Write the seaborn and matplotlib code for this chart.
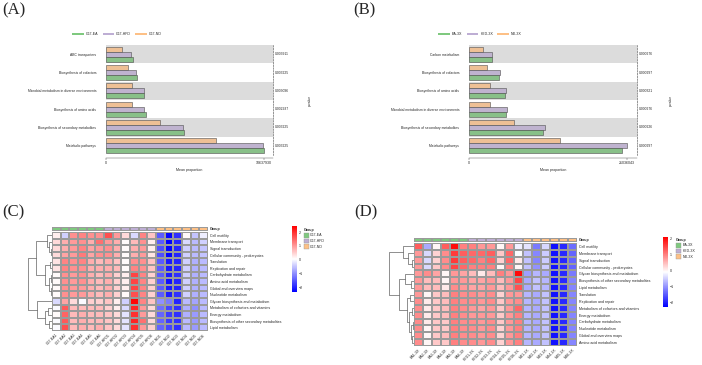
import numpy as np
import pandas as pd
import seaborn as sns
import matplotlib.pyplot as plt
from matplotlib.colors import LinearSegmentedColormap, ListedColormap
from matplotlib.patches import Patch

sns.set_style('white')
plt.rcParams['font.family'] = ['Liberation Sans', 'DejaVu Sans']

W, H = 702, 365
accent = ['#7FC97F', '#BEAED4', '#FDC086']

# ---- (A) bar data ----
a_paths = ['ABC transporters', 'Biosynthesis of cofactors',
           'Microbial metabolism in diverse environments', 'Biosynthesis of amino acids',
           'Biosynthesis of secondary metabolites', 'Metabolic pathways']
a_groups = ['C57-EA', 'C57-HFD', 'C57-ND']
a_ea = [1791650, 2060400, 2575500, 2687500, 5263000, 10637930]
a_hfd = [1679670, 2015600, 2530700, 2575500, 5195800, 10570700]
a_nd = [1052590, 1455700, 1724500, 1769300, 3650500, 7435300]
a_pvals = ['0.003911', '0.003225', '0.003096', '0.002937', '0.003225', '0.003225']

# ---- (B) bar data ----
b_paths = ['Carbon metabolism', 'Biosynthesis of cofactors', 'Biosynthesis of amino acids',
           'Microbial metabolism in diverse environments',
           'Biosynthesis of secondary metabolites', 'Metabolic pathways']
b_groups = ['EA-3X', 'HFD-3X', 'ND-3X']
b_ea = [3055800, 3985800, 4827200, 4915800, 9831600, 20327500]
b_hfd = [3100000, 4118600, 4915800, 5048600, 10141600, 21036043]
b_nd = [1860000, 2435800, 2790000, 2834300, 5934400, 12134500]
b_pvals = ['0.000276', '0.000297', '0.000321', '0.000276', '0.000226', '0.000297']

# ---- (C) heatmap data ----
c_rows = ['Cell motility', 'Membrane transport', 'Signal transduction',
          'Cellular community - prokaryotes', 'Translation', 'Replication and repair',
          'Carbohydrate metabolism', 'Amino acid metabolism', 'Global and overview maps',
          'Nucleotide metabolism', 'Glycan biosynthesis and metabolism',
          'Metabolism of cofactors and vitamins', 'Energy metabolism',
          'Biosynthesis of other secondary metabolites', 'Lipid metabolism']
c_cols = ['C57-EA1', 'C57-EA2', 'C57-EA3', 'C57-EA4', 'C57-EA5', 'C57-EA6',
          'C57-HFD1', 'C57-HFD2', 'C57-HFD3', 'C57-HFD4', 'C57-HFD5', 'C57-HFD6',
          'C57-ND1', 'C57-ND2', 'C57-ND3', 'C57-ND4', 'C57-ND5', 'C57-ND6']
c_col_group = [0] * 6 + [1] * 6 + [2] * 6
c_vals = [
    [0.2, -0.4, 1.1, 1.2, 1.1, 1.1, 1.7, 1.0, 0.4, -0.3, 1.2, 0.6, -1.5, -2.3, -1.9, 0.1, -0.5, -0.1],
    [0.4, 0.8, 1.0, 1.1, 0.8, 1.4, 1.0, 0.8, 0.1, 0.7, 1.1, 0.2, -1.5, -2.4, -2.0, -0.3, -0.6, -0.4],
    [0.4, 0.8, 1.0, 1.2, 0.9, 1.0, 1.1, 0.8, 0.1, 0.8, 1.0, 0.2, -1.6, -2.3, -2.0, -0.4, -0.6, -0.5],
    [0.4, 0.9, 1.0, 1.3, 0.9, 1.1, 1.1, 0.8, 0.1, 0.8, 1.0, 0.3, -1.6, -2.3, -2.0, -0.4, -0.6, -0.5],
    [0.3, 1.2, 1.1, 1.2, 0.8, 0.7, 0.8, 0.6, 0.1, 1.1, 1.1, 0.6, -1.5, -2.1, -2.0, -0.4, -0.7, -0.6],
    [0.3, 1.2, 1.1, 1.1, 0.8, 0.8, 0.8, 0.7, 0.1, 1.2, 1.1, 0.6, -1.5, -2.1, -2.0, -0.4, -0.7, -0.6],
    [0.1, 1.1, 1.0, 1.1, 0.8, 0.7, 0.8, 0.5, 0.2, 1.8, 1.2, 0.5, -1.5, -2.1, -1.9, -0.4, -0.7, -0.6],
    [0.1, 1.1, 1.0, 1.1, 0.8, 0.7, 0.8, 0.5, 0.2, 1.8, 1.2, 0.5, -1.5, -2.2, -2.0, -0.4, -0.7, -0.6],
    [0.1, 1.1, 1.0, 1.0, 0.8, 0.7, 0.8, 0.5, 0.2, 1.8, 1.2, 0.5, -1.5, -2.1, -2.0, -0.4, -0.7, -0.6],
    [0.1, 1.1, 1.0, 1.0, 0.8, 0.7, 0.8, 0.5, 0.1, 1.7, 1.2, 0.5, -1.5, -2.1, -1.9, -0.4, -0.7, -0.6],
    [-0.3, 0.9, 0.4, 0.0, 0.5, 0.5, 0.6, 0.2, -0.4, 2.4, 1.2, 0.6, -1.0, -1.2, -2.0, -0.6, -0.8, -0.6],
    [0.0, 1.6, 0.7, 0.7, 0.7, 0.7, 0.5, 0.2, -0.3, 2.1, 1.0, 0.4, -1.3, -1.7, -1.9, -0.7, -1.0, -0.6],
    [0.1, 1.5, 0.7, 0.8, 0.7, 0.7, 0.6, 0.4, -0.2, 2.0, 1.0, 0.4, -1.4, -1.8, -1.9, -0.7, -0.9, -0.6],
    [0.0, 1.6, 0.7, 0.8, 0.7, 0.7, 0.6, 0.4, -0.2, 2.1, 1.4, 0.4, -1.4, -1.8, -1.9, -0.6, -0.9, -0.6],
    [0.0, 1.7, 0.7, 0.8, 0.7, 0.8, 0.6, 0.4, -0.2, 2.0, 1.0, 0.5, -1.4, -1.7, -1.9, -0.6, -0.9, -0.6],
]
# row dendrogram as (height, left, right), leaves are row indices
c_tree = (1.0,
          (0.7, (0.2, 0, (0.12, 1, (0.06, 2, 3))),
                (0.3, (0.1, 4, 5), (0.12, (0.05, 6, 7), (0.06, 8, 9)))),
          (0.65, 10, (0.3, (0.15, 11, 12), (0.12, 13, 14))))

# ---- (D) heatmap data ----
d_rows = ['Cell motility', 'Membrane transport', 'Signal transduction',
          'Cellular community - prokaryotes', 'Glycan biosynthesis and metabolism',
          'Biosynthesis of other secondary metabolites', 'Lipid metabolism', 'Translation',
          'Replication and repair', 'Metabolism of cofactors and vitamins', 'Energy metabolism',
          'Carbohydrate metabolism', 'Nucleotide metabolism', 'Global and overview maps',
          'Amino acid metabolism']
d_cols = ['EA1-3X', 'EA2-3X', 'EA3-3X', 'EA4-3X', 'EA5-3X', 'EA6-3X',
          'HFD1-3X', 'HFD2-3X', 'HFD3-3X', 'HFD4-3X', 'HFD5-3X', 'HFD6-3X',
          'ND1-3X', 'ND2-3X', 'ND3-3X', 'ND4-3X', 'ND5-3X', 'ND6-3X']
d_col_group = [0] * 6 + [1] * 6 + [2] * 6
d_vals = [
    [1.3, -0.8, 0.0, 1.3, 2.0, 1.0, 1.0, 0.8, 0.8, 0.0, 0.8, -0.2, -0.3, -1.2, -0.4, -2.1, -1.9, -1.3],
    [0.8, -0.4, 0.3, 0.9, 1.6, 1.3, 1.2, 1.2, 1.3, 0.4, 1.2, -0.1, -0.6, -1.1, -0.5, -2.1, -1.9, -1.4],
    [0.8, -0.4, 0.3, 0.9, 1.6, 1.3, 1.2, 1.0, 1.2, 0.3, 1.2, 0.1, -0.6, -1.1, -0.5, -2.1, -1.9, -1.4],
    [0.8, -0.4, 0.4, 0.9, 1.5, 1.2, 1.0, 1.0, 1.0, 0.0, 1.0, 0.0, -0.6, -1.0, -0.5, -2.1, -1.9, -1.4],
    [0.8, 0.9, 0.7, 0.0, 0.8, 0.7, 0.5, 0.1, 0.5, 1.0, 0.8, 2.0, -0.9, -0.7, -0.8, -2.1, -1.9, -1.2],
    [0.8, 0.5, 0.5, 0.0, 0.8, 0.8, 0.7, 0.7, 0.8, 0.5, 0.8, 1.5, -0.8, -0.6, -0.7, -2.1, -1.9, -1.1],
    [0.8, 0.5, 0.5, 0.1, 0.9, 0.8, 0.7, 0.7, 0.8, 0.5, 0.8, 1.4, -0.8, -0.6, -0.7, -2.1, -1.9, -1.1],
    [0.8, 0.0, 0.4, 0.5, 1.0, 0.9, 0.9, 0.8, 0.9, 0.3, 0.8, 0.8, -0.7, -0.8, -0.6, -2.1, -1.9, -1.1],
    [0.9, 0.1, 0.4, 0.5, 1.0, 0.9, 0.9, 0.8, 0.9, 0.4, 0.8, 0.9, -0.7, -0.8, -0.6, -2.1, -1.9, -1.1],
    [0.9, 0.1, 0.4, 0.5, 1.0, 0.9, 0.8, 0.7, 0.8, 0.4, 0.8, 1.2, -0.7, -0.8, -0.6, -2.1, -1.9, -1.1],
    [0.9, 0.1, 0.4, 0.5, 1.0, 0.9, 0.8, 0.8, 0.8, 0.4, 0.8, 1.0, -0.7, -0.8, -0.6, -2.1, -1.9, -1.1],
    [0.9, 0.1, 0.4, 0.4, 1.0, 0.9, 0.9, 0.8, 0.9, 0.4, 0.8, 1.0, -0.7, -0.8, -0.6, -2.1, -1.9, -1.1],
    [0.9, 0.0, 0.4, 0.4, 1.0, 0.9, 0.9, 0.8, 0.9, 0.3, 0.8, 1.0, -0.7, -0.8, -0.6, -2.1, -1.9, -1.1],
    [0.9, 0.0, 0.4, 0.5, 1.0, 0.9, 0.9, 0.8, 0.9, 0.3, 0.8, 1.0, -0.7, -0.8, -0.6, -2.1, -1.9, -1.1],
    [0.9, 0.0, 0.4, 0.4, 1.0, 0.9, 0.9, 0.8, 0.9, 0.3, 0.8, 1.0, -0.7, -0.8, -0.6, -2.1, -1.9, -1.1],
]
d_tree = (1.0,
          (0.45, 0, (0.25, 1, (0.1, 2, 3))),
          (0.6, (0.35, 4, (0.12, 5, 6)),
                (0.3, (0.15, 7, 8),
                      (0.2, (0.1, 9, 10), (0.12, (0.06, 11, 12), (0.08, 13, 14))))))

fig = plt.figure(figsize=(W / 100, H / 100), dpi=100)


def px_axes(x, y, w, h):
    return fig.add_axes([x / W, 1 - (y + h) / H, w / W, h / H])


def panel_label(x, y, s):
    fig.text(x / W, 1 - y / H, s, fontsize=12, family='Liberation Serif', va='top', ha='left')


def bar_panel(box, paths, groups, series, pvals, xpad, leg_xy, pv_x):
    ax = px_axes(*box)
    df = pd.DataFrame({
        'pathway': np.repeat(paths, 3),
        'group': groups * len(paths),
        'value': np.ravel(np.column_stack(series)),
    })
    pal = dict(zip(groups, accent))
    sns.barplot(data=df, y='pathway', x='value', hue='group', order=paths,
                hue_order=groups[::-1], palette=pal, orient='h', width=0.82,
                edgecolor='#4d4d4d', linewidth=0.4, legend=False, ax=ax)
    for i in range(0, len(paths), 2):
        ax.axhspan(i - 0.5, i + 0.5, color='#DCDCDC', zorder=0, lw=0)
    vmax = df['value'].max()
    ax.set_xlim(0, vmax * xpad)
    ax.set_ylim(len(paths) - 0.5, -0.5)
    ax.set_xticks([0, vmax])
    ax.set_xticklabels(['0', f'{int(vmax)}'])
    ax.set_xlabel('Mean proportion', fontsize=2.6, labelpad=2)
    ax.set_ylabel('')
    ax.tick_params(axis='y', length=0, labelsize=2.4, pad=7)
    ax.tick_params(axis='x', length=1.5, width=0.3, labelsize=2.6, pad=1, bottom=True,
                   color='#444')
    for s in ['left', 'top']:
        ax.spines[s].set_visible(False)
    ax.spines['bottom'].set_linewidth(0.3)
    ax.spines['bottom'].set_color('#444')
    ax.spines['bottom'].set_position(('outward', 2))
    ax.spines['bottom'].set_bounds(0, vmax * xpad)
    ax.spines['right'].set_linestyle((0, (3, 2)))
    ax.spines['right'].set_linewidth(0.4)
    ax.spines['right'].set_color('#444')
    for i, p in enumerate(pvals):
        ax.text(1.012, i, p, transform=ax.get_yaxis_transform(), fontsize=2.4,
                va='center', ha='left')
    fig.text(pv_x / W, 1 - 100 / H, 'p-value', rotation=90, fontsize=2.4,
             va='center', ha='center')
    handles = [Patch(facecolor=c, edgecolor='none', label=g) for g, c in zip(groups, accent)]
    fig.legend(handles=handles, loc='center', bbox_to_anchor=(leg_xy[0] / W, 1 - leg_xy[1] / H),
               ncol=3, frameon=False, fontsize=2.6, handlelength=3.2, handleheight=0.5,
               columnspacing=1.2, handletextpad=0.6)


def draw_tree(ax, node):
    if isinstance(node, int):
        return node + 0.5, 0.0
    h, left, right = node
    y1, h1 = draw_tree(ax, left)
    y2, h2 = draw_tree(ax, right)
    ax.plot([h1, h, h, h2], [y1, y1, y2, y2], color='#3a3a3a', lw=0.4, solid_capstyle='butt')
    return (y1 + y2) / 2, h


cmap = LinearSegmentedColormap.from_list('bwr_ph', ['#0000FF', '#FFFFFF', '#FF0000'])


def heat_panel(hbox, strip_h, dendro_w, cbar_box, vlim, rows, cols, col_group, vals, tree,
               groups, leg_xy):
    x, y, w, h = hbox
    ax = px_axes(x, y, w, h)
    df = pd.DataFrame(vals, index=rows, columns=cols)
    cax = px_axes(*cbar_box)
    sns.heatmap(df, ax=ax, cmap=cmap, vmin=vlim[0], vmax=vlim[1], cbar_ax=cax,
                linewidths=0.3, linecolor='#9a9a9a', xticklabels=True, yticklabels=True)
    ax.yaxis.tick_right()
    ax.tick_params(axis='both', length=0, pad=1.5)
    ax.set_yticklabels(rows, rotation=0, fontsize=2.6, ha='left')
    ax.set_xticklabels(cols, rotation=45, fontsize=2.6, ha='right', rotation_mode='anchor')
    ax.set_xlabel('')
    ax.set_ylabel('')
    # colour bar
    cbar = ax.collections[0].colorbar
    cbar.outline.set_visible(False)
    cbar.set_ticks([-2, -1, 0, 1, 2])
    cax.tick_params(length=0, labelsize=2.6, pad=1.5)
    # group strip
    sax = px_axes(x, y - strip_h - 1.2, w, strip_h)
    sns.heatmap(np.array([col_group]), ax=sax, cmap=ListedColormap(accent), cbar=False,
                vmin=-0.5, vmax=2.5, linewidths=0.3, linecolor='#9a9a9a',
                xticklabels=False, yticklabels=False)
    sax.text(1.012, 0.5, 'Group', transform=sax.transAxes, fontsize=2.6,
             fontweight='bold', va='center', ha='left')
    # dendrogram
    dax = px_axes(x - dendro_w, y, dendro_w, h)
    draw_tree(dax, tree)
    dax.set_xlim(tree[0] * 1.02, 0)
    dax.set_ylim(len(rows), 0)
    dax.axis('off')
    # group legend
    handles = [Patch(facecolor=c, edgecolor='#9a9a9a', lw=0.3, label=g)
               for g, c in zip(groups, accent)]
    leg = fig.legend(handles=handles, title='Group', loc='upper left',
                     bbox_to_anchor=(leg_xy[0] / W, 1 - leg_xy[1] / H), frameon=False,
                     fontsize=2.6, title_fontsize=2.6, handlelength=1.3, handleheight=1.6,
                     handletextpad=0.5, labelspacing=0.3, borderpad=0, alignment='left')
    leg.get_title().set_fontweight('bold')


panel_label(2, 2, '(A)')
bar_panel((106, 45, 167, 110), a_paths, a_groups, (a_ea, a_hfd, a_nd), a_pvals,
          502 / 475, (117, 34), 310)

panel_label(353, 2, '(B)')
bar_panel((469, 45, 168, 110), b_paths, b_groups, (b_ea, b_hfd, b_nd), b_pvals,
          505 / 475, (480, 34), 671)

panel_label(2, 204, '(C)')
heat_panel((52, 232, 156, 99), 4, 24, (292, 226, 5, 66), (-2.35, 2.45),
           c_rows, c_cols, c_col_group, c_vals, c_tree,
           ['C57-EA', 'C57-HFD', 'C57-ND'], (302, 226))

panel_label(354, 204, '(D)')
heat_panel((414, 243, 163, 103), 4, 25, (663, 237, 5, 70), (-2.25, 2.1),
           d_rows, d_cols, d_col_group, d_vals, d_tree,
           ['EA-3X', 'HFD-3X', 'ND-3X'], (674, 236))

fig.savefig('out.png', dpi=100)
